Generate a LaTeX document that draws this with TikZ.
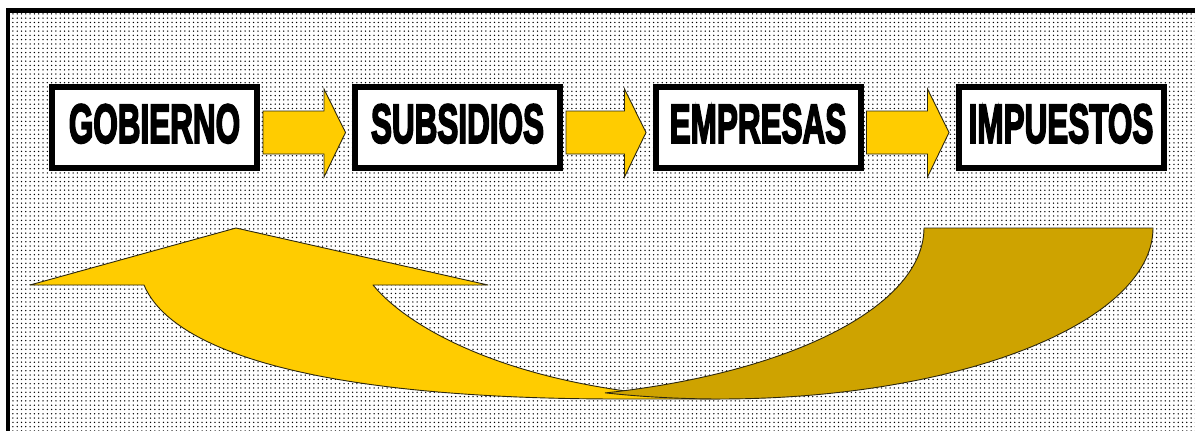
\documentclass[tikz,border=0pt]{standalone}
\usepackage{fontspec}
\usepackage{graphicx}
\newfontfamily\boxfont{Liberation Sans}[BoldFeatures={FakeBold=4}]
\usetikzlibrary{calc,patterns.meta}
\definecolor{arrowyellow}{HTML}{FFCC00}
\definecolor{arrowgold}{RGB}{206,163,0}
\definecolor{edgecol}{RGB}{45,40,15}
\newcommand\blockarrow[2]{%
  \filldraw[blockarr] let \p1=(#1.east), \p2=(#2.west) in
    (\x1+3pt,\y1+16.5pt) -- (\x2-28pt,\y1+16.5pt) -- (\x2-28pt,\y1+38.5pt)
    -- (\x2-6.5pt,\y1-5pt) -- (\x2-28pt,\y1-49.5pt) -- (\x2-28pt,\y1-26.5pt)
    -- (\x1+3pt,\y1-26.5pt) -- cycle;}
\begin{document}
\begin{tikzpicture}[x=1pt,y=-1pt,
  box/.style={draw=black, line width=6pt, fill=white, minimum width=205pt,
    minimum height=81pt, inner sep=0pt, text height=39.4pt, text depth=9pt,
    font=\boxfont\bfseries\fontsize{55}{60}\selectfont},
  blockarr/.style={fill=arrowyellow, draw=edgecol, line width=0.9pt, line join=miter},
  bigarrow/.style={draw=edgecol, line width=0.9pt, line join=round}]
\useasboundingbox (0,0) rectangle (1195,431);
% background frame
\fill[white] (8,10.5) rectangle (1215,445);
\fill[pattern={Dots[distance=4.3pt, radius=0.75pt]}, pattern color=black] (8,10.5) rectangle (1215,445);
\draw[line width=4.5pt] (8,10.5) rectangle (1215,445);
% boxes
\node[box] (gob) at (154.5,127.5) {\scalebox{0.572}[1]{GOBIERNO}};
\node[box] (sub) at (457.5,127.5) {\scalebox{0.572}[1]{SUBSIDIOS}};
\node[box] (emp) at (758,127.5) {\scalebox{0.572}[1]{EMPRESAS}};
\node[box] (imp) at (1061,127.5) {\scalebox{0.572}[1]{IMPUESTOS}};
% block arrows
\blockarrow{gob}{sub}
\blockarrow{sub}{emp}
\blockarrow{emp}{imp}
% big curved return arrow, front (yellow) part
\filldraw[bigarrow, fill=arrowyellow] (30,285) -- (236,228) -- (488,285) -- (373,285)
  .. controls (410,330) and (520,392) .. (720,399)
  -- (620,399) .. controls (320,399) and (172,352) .. (144,285)
  -- cycle;
% back (dark) part
\filldraw[bigarrow, fill=arrowgold] (924,228) -- (1153,228)
  -- plot[domain=0:105.3, samples=80, variable=\t] ({720+433*cos(\t)},{228+171*sin(\t)})
  -- plot[domain=0:74.7, samples=60, variable=\t] ({491+433*cos(74.7-\t)},{228+171*sin(74.7-\t)})
  -- cycle;
\end{tikzpicture}
\end{document}
